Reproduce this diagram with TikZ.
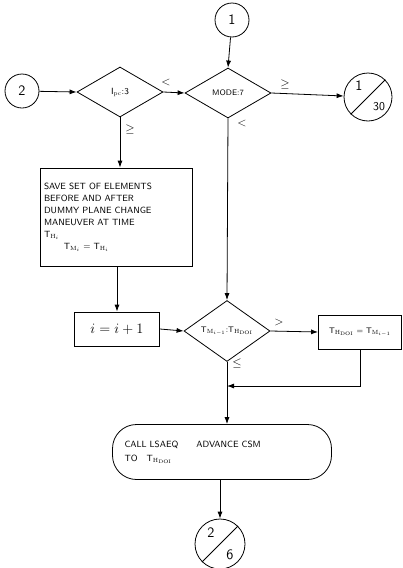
\documentclass[tikz,border=0pt]{standalone}
\usetikzlibrary{shapes.geometric,arrows.meta}
\begin{document}
\begin{tikzpicture}[x=1pt,y=-1pt,line width=0.8pt,font=\sffamily,
  decision/.style={draw,diamond,inner sep=0pt,minimum width=86pt,minimum height=50pt,font=\sffamily\footnotesize},
  process/.style={draw,rectangle,inner sep=3pt},
  conn/.style={draw,circle,inner sep=0pt,minimum size=34pt,font=\sffamily\Large},
  terminal/.style={draw,rectangle,rounded corners=24pt,minimum width=219pt,minimum height=55pt,text width=195pt,align=left,font=\sffamily\small},
  flow/.style={-{Latex[length=7pt,width=5pt]}},
  lbl/.style={font=\large}]
\useasboundingbox (0,0) rectangle (403,568);
% connectors in and out
\node[conn] (in1) at (232,20) {1};
\node[conn] (in2) at (22,91) {2};
\node[conn,minimum size=48pt] (out1) at (368,97) {};
\draw (out1.south west) -- (out1.north east);
\node[font=\sffamily\Large] (out1a) at (359,86) {1};
\node[font=\sffamily\large] (out1b) at (379,107) {30};
% tests
\node[decision] (ipc) at (120,92) {\small I$_{\mathrm{pc}}$:3};
\node[decision] (mode) at (228,93) {MODE:7};
\node[process,minimum width=152pt,minimum height=98pt,text width=144pt,align=left,font=\sffamily\small] (save) at (116,217)
  {SAVE SET OF ELEMENTS\\[1pt]BEFORE AND AFTER\\[1pt]DUMMY PLANE CHANGE\\[1pt]MANEUVER AT TIME\\[1pt]T$_{\mathrm{H}_i}$\\[1pt]\hspace*{2.2em}T$_{\mathrm{M}_i}$ = T$_{\mathrm{H}_i}$};
\node[process,minimum width=85pt,minimum height=34pt,font=\Large] (inc) at (117,329) {$i = i + 1$};
\node[decision] (cmp) at (227,331) {T$_{\mathrm{M}_{i-1}}$:T$_{\mathrm{H}_{\mathrm{DOI}}}$};
\node[process,minimum width=83pt,minimum height=34pt,font=\sffamily\footnotesize] (tset) at (360,332) {T$_{\mathrm{H}_{\mathrm{DOI}}}$ = T$_{\mathrm{M}_{i-1}}$};
\node[terminal] (adv) at (222,452) {CALL LSAEQ\qquad ADVANCE CSM\\[3pt]TO\quad T$_{\mathrm{H}_{\mathrm{DOI}}}$\\[8pt]};
\node[conn,minimum size=50pt] (out2) at (220,544) {};
\draw (out2.south west) -- (out2.north east);
\node[font=\sffamily\Large] (out2a) at (211,533) {2};
\node[font=\sffamily\Large] (out2b) at (230,555) {6};
% flow lines
\draw[flow] (in1) -- (mode.north);
\draw[flow] (in2) -- (ipc.west);
\draw[flow] (ipc.east) -- (mode.west);
\draw[flow] (mode.east) -- (out1);
\draw[flow] (ipc.south) -- (ipc.south |- save.north);
\draw[flow] (mode.south) -- (cmp.north);
\draw[flow] (save.south -| inc.north) -- (inc.north);
\draw[flow] (inc.east) -- (cmp.west);
\draw[flow] (cmp.east) -- (tset.west);
\coordinate (join) at (227,386);
\draw[flow] (tset.south) |- (join);
\draw[flow] (cmp.south) -- (cmp.south |- adv.north);
\draw[flow] (adv.south -| out2.north) -- (out2.north);
% branch labels
\node[lbl] (l1) at (166,82) {$<$};
\node[lbl] (l2) at (285,84) {$\geq$};
\node[lbl] (l3) at (242,123) {$<$};
\node[lbl] (l4) at (130,129) {$\geq$};
\node[lbl] (l5) at (279,322) {$>$};
\node[lbl] (l6) at (237,363) {$\leq$};
\end{tikzpicture}
\end{document}
